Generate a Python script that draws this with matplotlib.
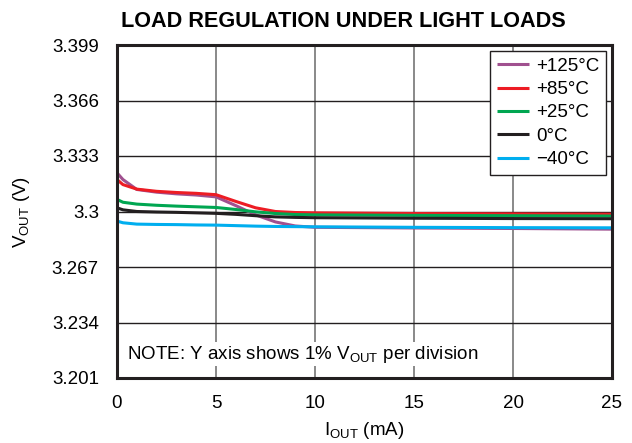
import matplotlib
matplotlib.use("Agg")
import matplotlib.pyplot as plt

plt.rcParams['font.family'] = ['Liberation Sans', 'DejaVu Sans']

x_ticks = [0, 5, 10, 15, 20, 25]
y_ticks = [3.201, 3.234, 3.267, 3.3, 3.333, 3.366, 3.399]
y_labels = ["3.201", "3.234", "3.267", "3.3", "3.333", "3.366", "3.399"]

iout = [0, 0.3, 1, 2, 3, 4, 5, 6, 7, 8, 9, 10, 15, 20, 25]
v_125 = [3.323, 3.319, 3.3131, 3.3115, 3.3105, 3.3098, 3.3087, 3.3035, 3.2980, 3.2938, 3.2914, 3.2906, 3.2902, 3.2899, 3.2895]
v_85 = [3.319, 3.316, 3.3133, 3.3120, 3.3113, 3.3108, 3.3100, 3.3060, 3.3022, 3.3000, 3.2994, 3.2992, 3.2988, 3.2986, 3.2984]
v_25 = [3.3072, 3.3055, 3.3044, 3.3037, 3.3032, 3.3028, 3.3024, 3.3012, 3.2998, 3.2988, 3.2982, 3.2980, 3.2977, 3.2975, 3.2973]
v_0 = [3.3022, 3.3010, 3.3000, 3.2997, 3.2995, 3.2992, 3.2989, 3.2983, 3.2975, 3.2968, 3.2965, 3.2963, 3.2960, 3.2958, 3.2957]
v_m40 = [3.2943, 3.2933, 3.2925, 3.2923, 3.2922, 3.2920, 3.2919, 3.2916, 3.2913, 3.2911, 3.2910, 3.2909, 3.2906, 3.2904, 3.2903]

series = [
    ("+125°C", v_125, "#a0508f"),
    ("+85°C", v_85, "#ed1c24"),
    ("+25°C", v_25, "#00a651"),
    ("0°C", v_0, "#231f20"),
    ("\u221240°C", v_m40, "#00aeef"),
]

fig = plt.figure(figsize=(6.32, 4.43), dpi=100)
ax = fig.add_axes([117/632, 1 - 378/443, (612 - 117)/632, (378 - 45)/443])

for label, vals, col in series:
    ax.plot(iout, vals, color=col, lw=2.2, label=label, solid_capstyle='butt')

ax.set_xlim(0, 25)
ax.set_ylim(3.201, 3.399)
ax.set_xticks(x_ticks)
ax.set_xticklabels([str(t) for t in x_ticks])
ax.set_yticks(y_ticks)
ax.set_yticklabels(y_labels)
ax.tick_params(axis='x', length=0, labelsize=13.5, pad=12)
ax.tick_params(axis='y', length=0, labelsize=13.5, pad=13)

for t in x_ticks[1:-1]:
    ax.axvline(t, color='#808080', lw=1.3, zorder=0)
for t in y_ticks[1:-1]:
    ax.axhline(t, color='#231f20', lw=1.0, zorder=0)

for s in ax.spines.values():
    s.set_linewidth(2.2)
    s.set_color('#231f20')

ax.set_xlabel(r"I$_{\mathregular{OUT}}$ (mA)", fontsize=13.5, labelpad=6)
ax.set_ylabel(r"V$_{\mathregular{OUT}}$ (V)", fontsize=13.5, labelpad=14)
ax.set_title("LOAD REGULATION UNDER LIGHT LOADS", fontsize=15.6, fontweight='bold',
             pad=13, x=0.457)

ax.text(0.02, 0.072, r"NOTE: Y axis shows 1% V$_{\mathregular{OUT}}$ per division",
        transform=ax.transAxes, fontsize=13.5, va='center', ha='left', zorder=1,
        bbox=dict(facecolor='white', edgecolor='none', pad=1))

leg = ax.legend(loc='upper right', fontsize=13.5, frameon=True, fancybox=False,
                edgecolor='#231f20', framealpha=1, handlelength=1.7,
                borderaxespad=0.3, labelspacing=0.33, handletextpad=0.4,
                borderpad=0.38)
leg.get_frame().set_linewidth(1.0)

fig.savefig("out.png", dpi=100)
